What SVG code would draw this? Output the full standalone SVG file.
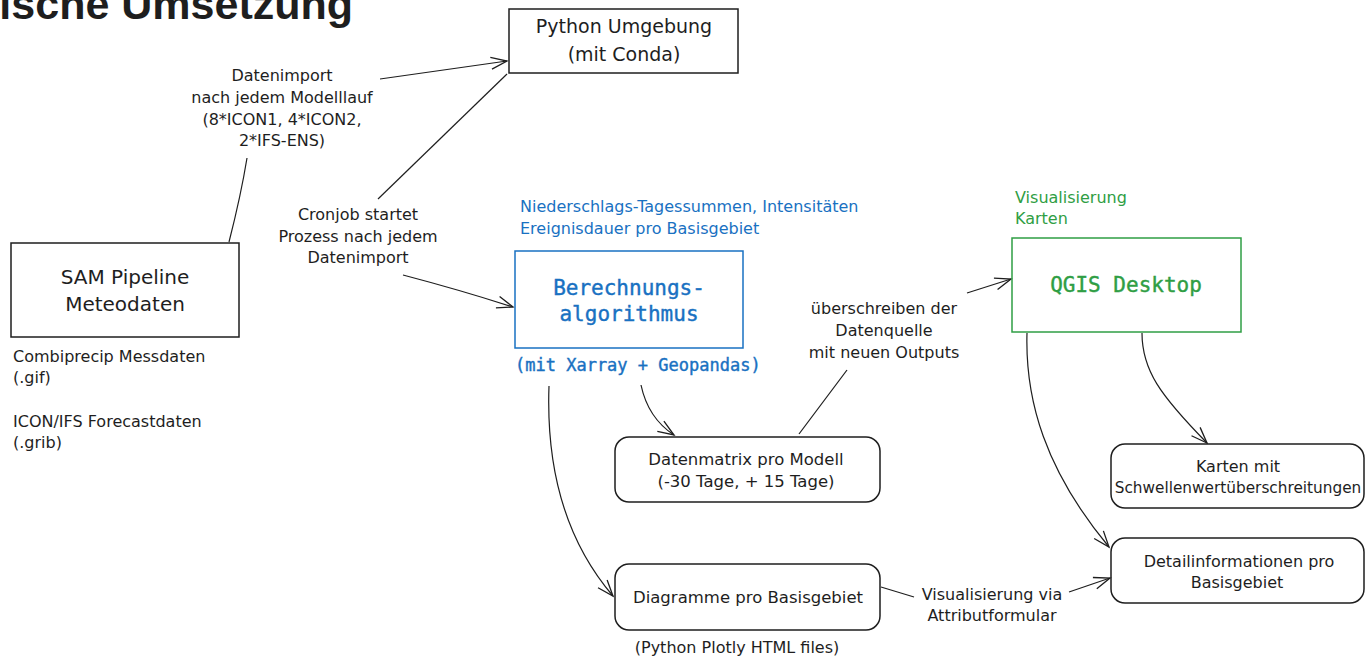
<svg xmlns="http://www.w3.org/2000/svg" width="1366" height="660" viewBox="0 0 1366 660">
<defs>
<style>
.box{fill:none;stroke:#1e1e1e;stroke-width:1.5}
.blue{stroke:#1971c2}
.green{stroke:#2f9e44}
.c{fill:none;stroke:#1e1e1e;stroke-width:1.2}
.h{font-family:"DejaVu Sans",sans-serif;fill:#1e1e1e}
.m{font-family:"DejaVu Sans Mono","Liberation Mono",monospace}
.bm{stroke-width:0.4}
.t16{font-size:16px}
.mid{text-anchor:middle}
</style>
<marker id="ah" viewBox="-20 -10 22 20" refX="0" refY="0" markerWidth="22" markerHeight="20" markerUnits="userSpaceOnUse" orient="auto">
<path d="M-16,-6 L0,0 L-16,6" fill="none" stroke="#1e1e1e" stroke-width="1.3"/>
</marker>
</defs>
<rect width="1366" height="660" fill="#ffffff"/>
<text x="353" y="19" text-anchor="end" font-family="Liberation Sans,Arial,sans-serif" font-weight="bold" font-size="43" fill="#1e1e1e">ische Umsetzung</text>

<g id="connectors">
<path class="c" d="M229,242 Q241,195 247,158"/>
<path class="c" d="M380,79 L507,61" marker-end="url(#ah)"/>
<path class="c" d="M507,74 L378,199"/>
<path class="c" d="M403,275 Q460,290 513,307" marker-end="url(#ah)"/>
<path class="c" d="M641,385 Q648,418 674,435" marker-end="url(#ah)"/>
<path class="c" d="M799,434 L847,370"/>
<path class="c" d="M967,293 L1011,279" marker-end="url(#ah)"/>
<path class="c" d="M549,386 C546,470 565,540 613,596" marker-end="url(#ah)"/>
<path class="c" d="M881,587 L914,597"/>
<path class="c" d="M1069,592 L1110,578" marker-end="url(#ah)"/>
<path class="c" d="M1027,333 C1025,400 1045,470 1109,547" marker-end="url(#ah)"/>
<path class="c" d="M1142,333 C1142,370 1160,395 1207,443" marker-end="url(#ah)"/>
</g>

<g id="label-datenimport" class="h t16 mid">
<text x="282" y="81">Datenimport</text>
<text x="282" y="103">nach jedem Modelllauf</text>
<text x="282" y="125">(8*ICON1, 4*ICON2,</text>
<text x="282" y="146">2*IFS-ENS)</text>
</g>
<g id="label-cronjob" class="h t16 mid">
<text x="358" y="220">Cronjob startet</text>
<text x="358" y="242">Prozess nach jedem</text>
<text x="358" y="263">Datenimport</text>
</g>
<g id="label-ueberschreiben" class="h t16 mid">
<text x="884" y="314">überschreiben der</text>
<text x="884" y="336">Datenquelle</text>
<text x="884" y="358">mit neuen Outputs</text>
</g>
<g id="label-visualisierung-via" class="h t16 mid">
<text x="992" y="600">Visualisierung via</text>
<text x="992" y="621">Attributformular</text>
</g>

<g id="node-python">
<rect class="box" x="509" y="9" width="229" height="64"/>
<text class="h mid" font-size="19" x="624" y="33">Python Umgebung</text>
<text class="h mid" font-size="19" x="624" y="61">(mit Conda)</text>
</g>

<g id="node-sam">
<rect class="box" x="11" y="243" width="228" height="94"/>
<text class="h mid" font-size="20" x="125" y="284">SAM Pipeline</text>
<text class="h mid" font-size="20" x="125" y="311">Meteodaten</text>
<g class="h t16">
<text x="13" y="362">Combiprecip Messdaten</text>
<text x="13" y="383">(.gif)</text>
<text x="13" y="427">ICON/IFS Forecastdaten</text>
<text x="13" y="448">(.grib)</text>
</g>
</g>

<g id="node-berechnung">
<text class="h t16" x="520" y="212" style="fill:#1971c2">Niederschlags-Tagessummen, Intensitäten</text>
<text class="h t16" x="520" y="234" style="fill:#1971c2">Ereignisdauer pro Basisgebiet</text>
<rect class="box blue" x="515" y="251" width="228" height="97"/>
<text class="m mid bm" font-size="21" x="629" y="295" fill="#1971c2" stroke="#1971c2">Berechnungs-</text>
<text class="m mid bm" font-size="21" x="629" y="321" fill="#1971c2" stroke="#1971c2">algorithmus</text>
<text class="m bm" font-size="17" x="515" y="371" fill="#1971c2" stroke="#1971c2">(mit Xarray + Geopandas)</text>
</g>

<g id="node-qgis">
<text class="h t16" x="1015" y="203" style="fill:#2f9e44">Visualisierung</text>
<text class="h t16" x="1015" y="224" style="fill:#2f9e44">Karten</text>
<rect class="box green" x="1012" y="238" width="229" height="94"/>
<text class="m mid bm" font-size="21" x="1126" y="292" fill="#2f9e44" stroke="#2f9e44">QGIS Desktop</text>
</g>

<g id="node-datenmatrix">
<rect class="box" x="615" y="437" width="265" height="65" rx="14"/>
<text class="h mid" font-size="16.5" x="746" y="465">Datenmatrix pro Modell</text>
<text class="h mid" font-size="16.5" x="746" y="487">(-30 Tage, + 15 Tage)</text>
</g>

<g id="node-diagramme">
<rect class="box" x="615" y="564" width="265" height="66" rx="14"/>
<text class="h mid" font-size="16.5" x="748" y="603">Diagramme pro Basisgebiet</text>
<text class="h mid" font-size="16" x="737" y="653">(Python Plotly HTML files)</text>
</g>

<g id="node-karten">
<rect class="box" x="1111" y="444" width="253" height="64" rx="14"/>
<text class="h mid" font-size="16" x="1238" y="472">Karten mit</text>
<text class="h mid" font-size="15.3" x="1238" y="493">Schwellenwertüberschreitungen</text>
</g>

<g id="node-detail">
<rect class="box" x="1111" y="538" width="253" height="65" rx="14"/>
<text class="h mid" font-size="16" x="1239" y="567">Detailinformationen pro</text>
<text class="h mid" font-size="16" x="1237" y="588">Basisgebiet</text>
</g>
</svg>
